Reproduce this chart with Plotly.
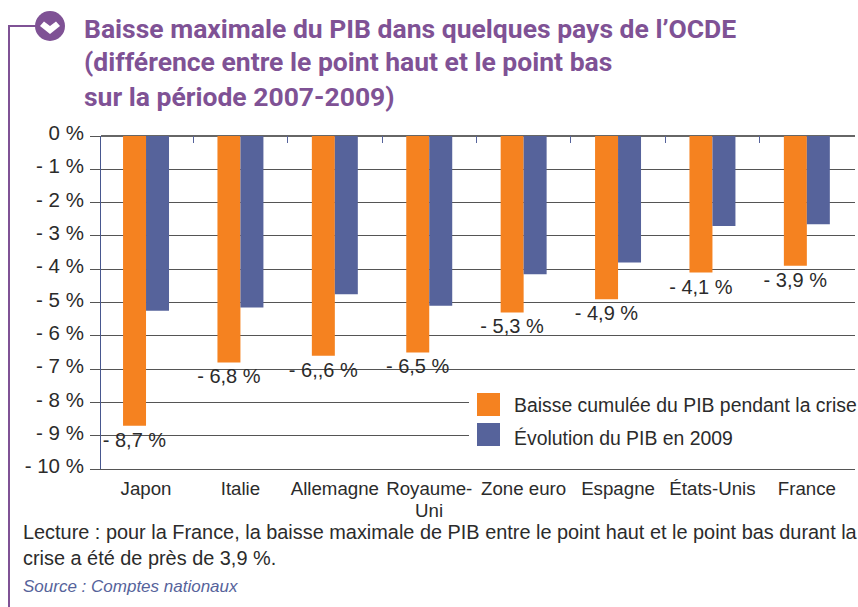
import plotly.graph_objects as go

categories = ["Japon", "Italie", "Allemagne", "Royaume-", "Zone euro", "Espagne", "États-Unis", "France"]
category_second_line = {3: "Uni"}
baisse = [-8.7, -6.8, -6.6, -6.5, -5.3, -4.9, -4.1, -3.9]
evolution = [-5.25, -5.15, -4.75, -5.1, -4.15, -3.8, -2.7, -2.65]
labels = ["- 8,7 %", "- 6,8 %", "- 6,,6 %", "- 6,5 %", "- 5,3 %", "- 4,9 %", "- 4,1 %", "- 3,9 %"]
y_ticks = [0, -1, -2, -3, -4, -5, -6, -7, -8, -9, -10]
y_labels = ["0 %", "- 1 %", "- 2 %", "- 3 %", "- 4 %", "- 5 %", "- 6 %", "- 7 %", "- 8 %", "- 9 %", "- 10 %"]
series_names = ["Baisse cumulée du PIB pendant la crise", "Évolution du PIB en 2009"]
boundaries = [0.5, 1.5, 2.5, 3.5, 4.5, 5.5, 6.5]

ORANGE = "#f58220"
BLUE = "#56639b"
PURPLE = "#7f5295"
TEXT = "#2b2b2b"
FONT = "Liberation Sans"

W, H = 858, 607
L, R, T, B = 101, 855, 136, 469
px = lambda x: (x - L) / (R - L)
py = lambda y: (B - y) / (B - T)

fig = go.Figure()
fig.add_bar(x=list(range(8)), y=baisse, name=series_names[0], marker_color=ORANGE, marker_line_width=0,
            text=labels, textposition="outside", textangle=0, cliponaxis=False, constraintext="none",
            textfont=dict(size=20, color=TEXT, family=FONT), showlegend=False)
fig.add_bar(x=list(range(8)), y=evolution, name=series_names[1], marker_color=BLUE, marker_line_width=0,
            showlegend=False)
fig.add_scatter(x=boundaries, y=[0] * len(boundaries), xaxis="x2", mode="markers",
                marker=dict(opacity=0), showlegend=False, hoverinfo="skip")

shapes = [
    dict(type="rect", xref="paper", yref="paper", x0=px(469), x1=px(858), y0=py(455), y1=py(383),
         fillcolor="white", line_width=0, layer="above"),
    dict(type="line", xref="paper", yref="paper", x0=px(9), x1=px(9), y0=py(607), y1=py(26),
         line=dict(color=PURPLE, width=2)),
    dict(type="line", xref="paper", yref="paper", x0=px(8), x1=px(40), y0=py(26), y1=py(26),
         line=dict(color=PURPLE, width=2)),
    dict(type="circle", xref="paper", yref="paper", x0=px(35), x1=px(65), y0=py(41), y1=py(11),
         fillcolor=PURPLE, line_width=0),
    dict(type="path", xref="paper", yref="paper", line_width=0, fillcolor="white",
         path=(f"M {px(40)} {py(26)} L {px(44)} {py(21.5)} L {px(50)} {py(26)} L {px(56)} {py(21.5)} "
               f"L {px(60)} {py(26)} L {px(50)} {py(34)} Z")),
    dict(type="rect", xref="paper", yref="paper", x0=px(477), x1=px(500), y0=py(416), y1=py(393),
         fillcolor=ORANGE, line_width=0),
    dict(type="rect", xref="paper", yref="paper", x0=px(477), x1=px(500), y0=py(446), y1=py(423),
         fillcolor=BLUE, line_width=0),
]

def note(x, y, text, size=19.4, color=TEXT, family=FONT, xanchor="left"):
    return dict(xref="paper", yref="paper", x=px(x), y=py(y), text=text, showarrow=False,
                xanchor=xanchor, yanchor="middle", align="left", xshift=-2,
                font=dict(size=size, color=color, family=family))

annotations = [
    note(84, 28, "<b>Baisse maximale du PIB dans quelques pays de l’OCDE</b>", 26.5, PURPLE, "Roboto"),
    note(84, 62, "<b>(différence entre le point haut et le point bas</b>", 26.5, PURPLE, "Roboto"),
    note(84, 96, "<b>sur la période 2007-2009)</b>", 26.5, PURPLE, "Roboto"),
    note(514, 405, series_names[0]),
    note(514, 438, series_names[1]),
    note(23, 532, "Lecture : pour la France, la baisse maximale de PIB entre le point haut et le point bas durant la", 19.9),
    note(23, 558, "crise a été de près de 3,9 %.", 19.9),
    note(23, 586, "<i>Source : Comptes nationaux</i>", 17, BLUE),
]
for idx, text in category_second_line.items():
    annotations.append(dict(xref="x", yref="paper", x=idx, y=py(510), text=text, showarrow=False,
                            xanchor="center", yanchor="middle",
                            font=dict(size=18.7, color=TEXT, family=FONT)))

fig.update_layout(
    width=W, height=H, autosize=False,
    margin=dict(l=L, r=W - R, t=T, b=H - B),
    paper_bgcolor="white", plot_bgcolor="white",
    barmode="group", bargap=0.513, bargroupgap=0,
    font=dict(family=FONT, size=18.5, color=TEXT),
    shapes=shapes, annotations=annotations,
    xaxis=dict(range=[-0.477, 7.51], tickvals=list(range(8)), ticktext=categories,
               showgrid=False, zeroline=False, ticks="", showline=True, linecolor="#555555", linewidth=1,
               tickfont=dict(size=18.7, color=TEXT), ticklabelstandoff=3),
    xaxis2=dict(overlaying="x", anchor="y", side="top", range=[-0.477, 7.51], tickvals=boundaries,
                ticks="inside", ticklen=7, tickcolor=BLUE, tickwidth=1, showticklabels=False,
                showgrid=False, zeroline=False, showline=False),
    yaxis=dict(range=[-10, 0], tickvals=y_ticks, ticktext=y_labels, showgrid=True, gridcolor="#555555",
               gridwidth=1, ticks="outside", ticklen=10, tickcolor="#555555", zeroline=True,
               zerolinecolor="#666666", zerolinewidth=2, showline=True, linecolor="#47578f", linewidth=1,
               tickfont=dict(size=20.5, color=TEXT), ticklabelstandoff=2, ticklabelshift=-3),
)
fig.write_html("out.html", config={"displayModeBar": False},
               post_script="document.body.style.margin='0';document.body.style.overflow='hidden';")
